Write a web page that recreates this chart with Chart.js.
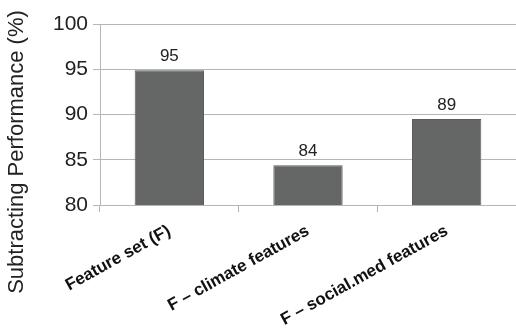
<!DOCTYPE html>
<html lang="en">
<head>
  <meta charset="UTF-8" />
  <title>Subtracting Performance</title>
  <script src="https://cdn.jsdelivr.net/npm/chart.js"></script>
  <style>
    html, body { margin: 0; padding: 0; background: #fff; }
    #wrap { width: 516px; height: 335px; }
  </style>
</head>
<body>
  <div id="wrap"><canvas id="chart" width="516" height="335"></canvas></div>

  <script>
    // Data
    const categories = ['Feature set (F)', 'F \u2013 climate features', 'F \u2013 social.med features'];
    const performance = [94.9, 84.4, 89.5];
    const valueLabels = ['95', '84', '89'];
    const yTitle = 'Subtracting Performance (%)';
    const yMin = 80, yMax = 100, yStep = 5;

    Chart.defaults.font.family = "'Liberation Sans', Arial, sans-serif";
    Chart.defaults.color = '#222';

    // value labels above bars
    const barLabels = {
      id: 'barLabels',
      afterDatasetsDraw(chart) {
        const ctx = chart.ctx;
        const meta = chart.getDatasetMeta(0);
        ctx.save();
        ctx.font = "17px 'Liberation Sans', Arial, sans-serif";
        ctx.fillStyle = '#222';
        ctx.textAlign = 'center';
        ctx.textBaseline = 'bottom';
        meta.data.forEach((bar, i) => {
          ctx.fillText(valueLabels[i], bar.x, bar.y - 5);
        });
        ctx.restore();
      }
    };

    // y axis title, centred like in the original
    const axisTitle = {
      id: 'axisTitle',
      afterDraw(chart) {
        const ctx = chart.ctx;
        ctx.save();
        ctx.translate(17, 152);
        ctx.rotate(-Math.PI / 2);
        ctx.font = "22px 'Liberation Sans', Arial, sans-serif";
        ctx.fillStyle = '#222';
        ctx.textAlign = 'center';
        ctx.textBaseline = 'middle';
        ctx.fillText(yTitle, 0, 0);
        ctx.restore();
      }
    };

    new Chart(document.getElementById('chart'), {
      type: 'bar',
      data: {
        labels: categories,
        datasets: [{
          data: performance,
          backgroundColor: '#656666',
          borderColor: '#5c5c5c',
          borderWidth: 1,
          categoryPercentage: 1,
          barPercentage: 0.5
        }]
      },
      options: {
        responsive: false,
        animation: false,
        layout: { padding: { top: 24, right: 0, left: 0, bottom: 0 } },
        plugins: {
          legend: { display: false },
          tooltip: { enabled: false }
        },
        scales: {
          x: {
            afterFit(scale) { scale.height = 130; },
            grid: {
              offset: true,
              drawOnChartArea: false,
              drawTicks: true,
              tickLength: 7,
              color: '#b5b5b5'
            },
            border: { color: '#b5b5b5' },
            ticks: {
              minRotation: 29,
              maxRotation: 29,
              padding: 9,
              color: '#111',
              font: { size: 17, weight: 'bold' }
            }
          },
          y: {
            min: yMin,
            max: yMax,
            afterFit(scale) { scale.width = 100; },
            grid: { color: '#b5b5b5', tickLength: 7 },
            border: { color: '#b5b5b5' },
            ticks: {
              stepSize: yStep,
              padding: 5,
              color: '#222',
              font: { size: 21 }
            }
          }
        }
      },
      plugins: [barLabels, axisTitle]
    });
  </script>
</body>
</html>
